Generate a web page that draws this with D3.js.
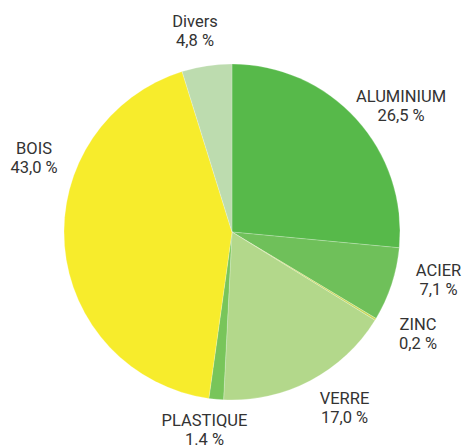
<!DOCTYPE html>
<html><head><meta charset="utf-8">
<script src="https://cdn.jsdelivr.net/npm/d3@7"></script>
<style>html,body{margin:0;padding:0;background:#fff;}svg{display:block;}</style>
</head><body>
<svg id="c" width="463" height="445"></svg>
<script>
const categories = ["ALUMINIUM","ACIER","ZINC","VERRE","PLASTIQUE","BOIS","Divers"];
const values = [26.5, 7.1, 0.2, 17.0, 1.4, 43.0, 4.8];
const valueLabels = ["26,5 %","7,1 %","0,2 %","17,0 %","1.4 %","43,0 %","4,8 %"];
const colors = ["#57b94a","#6fc05a","#c9d95b","#b3d88b","#78c55a","#f7ec2c","#bddcaf"];

// layout: label anchors (first-line baseline) relative to pie centre
const labelOffsets = [[169,-130],[206.5,44],[186,98],[112.5,172],[-27.5,194],[-198,-78],[-37,-205]];

const svg = d3.select("#c");
const cx = 232, cy = 232, r = 168;
const g = svg.append("g").attr("transform", `translate(${cx},${cy})`);
const data = categories.map((c,i)=>({name:c, value:values[i], label:valueLabels[i], color:colors[i], off:labelOffsets[i]}));
const pie = d3.pie().value(d=>d.value).sort(null);
const arc = d3.arc().innerRadius(0).outerRadius(r);
g.selectAll("path").data(pie(data)).join("path")
  .attr("d", arc).attr("fill", d=>d.data.color)
  .attr("stroke", "rgba(255,255,255,0.35)").attr("stroke-width", 0.6);

const lab = g.selectAll("text").data(data).join("text")
  .attr("text-anchor","middle")
  .attr("font-family","Roboto, 'Open Sans', sans-serif")
  .attr("font-size", 16.5).attr("fill","#333")
  .attr("transform", d=>`translate(${d.off[0]},${d.off[1]})`);
lab.append("tspan").attr("x",0).attr("y",0).text(d=>d.name);
lab.append("tspan").attr("x",0).attr("y",19).text(d=>d.label);
</script>
</body></html>
